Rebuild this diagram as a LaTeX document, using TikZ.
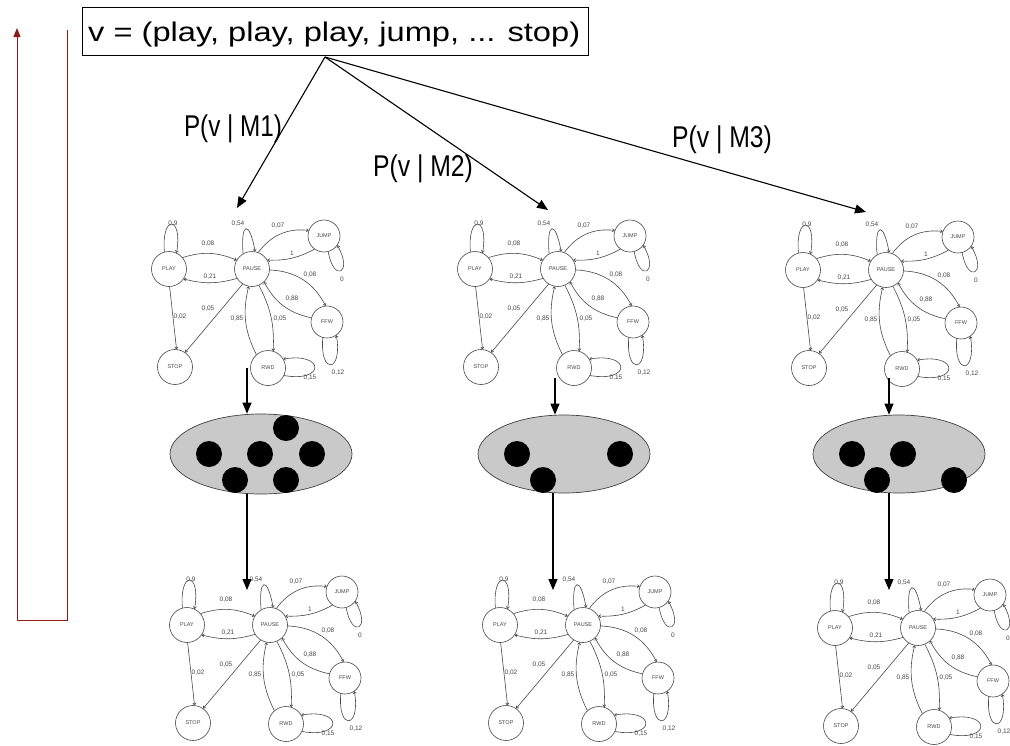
\documentclass[tikz,border=0pt]{standalone}
\usepackage{fontspec}
\setmainfont{Liberation Sans}
\usetikzlibrary{arrows.meta,shapes.geometric}
\definecolor{gcol}{HTML}{484848}
\definecolor{redc}{HTML}{8E1B1B}
\definecolor{ellc}{HTML}{C9C9C9}
\tikzset{
  st/.style={circle,draw=gcol,line width=0.6pt,minimum size=35pt,inner sep=0pt,
    font=\fontsize{5.5}{5.5}\selectfont,text=gcol},
  stsmall/.style={st,minimum size=32pt},
  ed/.style={draw=gcol,line width=0.6pt,-{To[length=2.5pt,width=3.5pt]}},
  el/.style={font=\fontsize{6.5}{6.5}\selectfont,text=gcol,inner sep=0pt},
  big/.style={line width=1.1pt,-{Triangle[length=11pt,width=9pt]}},
  redline/.style={draw=redc,line width=1pt},
  blob/.style={ellipse,draw=black!75,line width=0.7pt,fill=ellc,minimum width=182pt,minimum height=80pt,inner sep=0pt},
  dot/.style={circle,fill=black,minimum size=26pt,inner sep=0pt},
  plab/.style={font=\fontsize{30}{30}\selectfont,inner sep=0pt,anchor=base}
}
\newcommand{\stategraph}[3]{%
\begin{scope}[shift={(#2,-#3)}]
  \node[st] (#1pause) at (0,0) {PAUSE};
  \node[st] (#1play) at (-83,0) {PLAY};
  \node[stsmall] (#1jump) at (72,33) {JUMP};
  \node[stsmall] (#1ffw) at (75,-53) {FFW};
  \node[st] (#1stop) at (-77,-98) {STOP};
  \node[st] (#1rwd) at (16,-99) {RWD};
  \draw[ed] (#1play.105) .. controls +(95:38) and +(80:38) .. (#1play.65);
  \draw[ed] (#1pause.120) .. controls +(95:32) and +(100:32) .. (#1pause.80);
  \draw[ed] (#1play.40) to[bend left=20] (#1pause.150);
  \draw[ed] (#1pause.212) to[bend left=15] (#1play.-34);
  \draw[ed] (#1play.-88) -- (#1stop.85);
  \draw[ed] (#1pause.238) -- (#1stop.55);
  \draw[ed] (#1pause.69) to[bend left=30] (#1jump.160);
  \draw[ed] (#1jump.234) to[bend left=15] (#1pause.30);
  \draw[ed] (#1pause.-3) to[bend left=30] (#1ffw.95);
  \draw[ed] (#1ffw.165) to[bend left=25] (#1pause.-47);
  \draw[ed] (#1rwd.131) to[bend left=20] (#1pause.-101);
  \draw[ed] (#1pause.-67) to[bend left=15] (#1rwd.73);
  \draw[ed] (#1rwd.-25) .. controls +(-10:42) and +(10:42) .. (#1rwd.30);
  \draw[ed] (#1ffw.-105) .. controls +(-95:38) and +(-80:38) .. (#1ffw.-55);
  \draw[ed] (#1jump.-75) .. controls +(-80:32) and +(-60:32) .. (#1jump.-35);
  \node[el] (#1a) at (-79,45) {0,9};
  \node[el] (#1b) at (-14,45) {0,54};
  \node[el] (#1c) at (-44,25) {0,08};
  \node[el] (#1d) at (-42,-8) {0,21};
  \node[el] (#1e) at (26,43) {0,07};
  \node[el] (#1f) at (40,16) {1};
  \node[el] (#1g) at (58,-6) {0,08};
  \node[el] (#1h) at (40,-30) {0,88};
  \node[el] (#1i) at (-72,-48) {0,02};
  \node[el] (#1j) at (-44,-40) {0,05};
  \node[el] (#1k) at (-15,-50) {0,85};
  \node[el] (#1l) at (28,-50) {0,05};
  \node[el] (#1m) at (58,-109) {0,15};
  \node[el] (#1n) at (86,-104) {0,12};
  \node[el] (#1o) at (90,-10) {0};
\end{scope}}
\begin{document}
\begin{tikzpicture}[x=1pt,y=1pt]
\useasboundingbox (0,0) rectangle (1010,-745);
\fill[white] (0,0) rectangle (1010,-745);
% red loop
\coordinate (r1) at (17,-620);
\coordinate (r2) at (17,-28);
\coordinate (r3) at (67,-30);
\coordinate (r4) at (67,-620);
\draw[redline,-{Triangle[length=9pt,width=7pt]}] (r1) -- (r2);
\draw[redline] (r3) -- (r4) -- (r1);
% top box
\node[draw,line width=0.8pt,minimum width=506pt,minimum height=48pt,inner sep=0pt] (vbox) at (335,-31) {};
\node[inner sep=0pt,anchor=base west] (vtext) at (88,-41) {\resizebox{492pt}{\height}{\fontsize{27}{27}\selectfont v = (play, play, play, jump, ... stop)}};
\coordinate (hub) at (325,-57);
\coordinate (t1) at (237,-208);
\coordinate (t2) at (548,-210);
\coordinate (t3) at (866,-212);
\draw[big] (hub) -- (t1);
\draw[big] (hub) -- (t2);
\draw[big] (hub) -- (t3);
\node[plab] (p1) at (233,-136) {\resizebox{98pt}{\height}{P(v | M1)}};
\node[plab] (p2) at (423,-176) {\resizebox{100pt}{\height}{P(v | M2)}};
\node[plab] (p3) at (722,-147) {\resizebox{100pt}{\height}{P(v | M3)}};
% graphs
\stategraph{ga}{252}{269}
\stategraph{gb}{558}{269}
\stategraph{gc}{886}{270}
\stategraph{ha}{270}{625}
\stategraph{hb}{583}{625}
\stategraph{hc}{918}{628}
% ellipses
\node[blob] (e1) at (261,-454) {};
\node[blob,minimum width=172pt,minimum height=78pt] (e2) at (564,-454) {};
\node[blob,minimum width=172pt,minimum height=78pt] (e3) at (899,-454) {};
\node[dot] (e1a) at (209,-454) {};
\node[dot] (e1b) at (235,-480) {};
\node[dot] (e1c) at (260,-454) {};
\node[dot] (e1d) at (286,-428) {};
\node[dot] (e1e) at (312,-454) {};
\node[dot] (e1f) at (286,-480) {};
\node[dot] (e2a) at (517,-454) {};
\node[dot] (e2b) at (543,-480) {};
\node[dot] (e2c) at (620,-454) {};
\node[dot] (e3a) at (852,-454) {};
\node[dot] (e3b) at (877,-480) {};
\node[dot] (e3c) at (903,-454) {};
\node[dot] (e3d) at (954,-480) {};
% down arrows
\coordinate (d1) at (247,-368);
\coordinate (d2) at (555,-378);
\coordinate (d3) at (889,-378);
\coordinate (f1) at (247,-590);
\coordinate (f2) at (553,-590);
\coordinate (f3) at (889,-590);
\draw[big] (d1) -- (d1 |- e1.north);
\draw[big] (d2) -- (d2 |- e2.north);
\draw[big] (d3) -- (d3 |- e3.north);
\draw[big] (f1 |- e1.south) -- (f1);
\draw[big] (f2 |- e2.south) -- (f2);
\draw[big] (f3 |- e3.south) -- (f3);
\end{tikzpicture}
\end{document}
